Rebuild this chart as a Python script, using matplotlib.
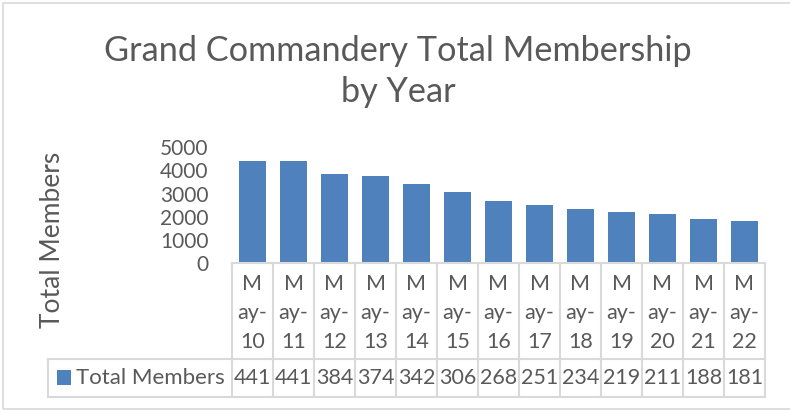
import matplotlib
matplotlib.use('Agg')
import matplotlib.pyplot as plt
from matplotlib.patches import Rectangle
from matplotlib.lines import Line2D

# ---- data ----
categories = ['May-10', 'May-11', 'May-12', 'May-13', 'May-14', 'May-15', 'May-16',
              'May-17', 'May-18', 'May-19', 'May-20', 'May-21', 'May-22']
members = [4410, 4410, 3840, 3740, 3420, 3060, 2680, 2510, 2340, 2190, 2110, 1880, 1810]
table_values = ['441', '441', '384', '374', '342', '306', '268', '251', '234', '219',
                '211', '188', '181']
yticks = [0, 1000, 2000, 3000, 4000, 5000]
series_name = 'Total Members'
title = 'Grand Commandery Total Membership\nby Year'

# ---- style ----
FONT = ['Lato', 'DejaVu Sans']
TXT = '#595959'
GRID = '#D9D9D9'
BAR = '#4F81BD'
W, H = 790, 411

plt.rcParams['font.family'] = FONT

fig = plt.figure(figsize=(W / 100, H / 100), dpi=100)
fig.patch.set_facecolor('white')

def fx(x):
    return x / W

def fy(y):
    return 1 - y / H

# plot area
x0, x1 = 232, 765
y_top, y_bot = 147.4, 262.7
ax = fig.add_axes([fx(x0), fy(y_bot), (x1 - x0) / W, (y_bot - y_top) / H])
n = len(categories)
ax.bar(range(n), members, width=0.68, color=BAR)
ax.set_xlim(-0.5, n - 0.5)
ax.set_ylim(0, 5000)
ax.set_yticks(yticks)
ax.set_yticklabels([str(t) for t in yticks], fontsize=15, color=TXT)
ax.tick_params(axis='y', length=0, pad=17)
ax.set_xticks([])
for s in ax.spines.values():
    s.set_visible(False)

# outer border
fig.patches.append(Rectangle((fx(3), fy(409)), 1, (409 - 3) / H, transform=fig.transFigure,
                             fill=False, edgecolor=GRID, lw=1.2))

# data table
cw = (x1 - x0) / n
row1_top, row1_bot, row2_bot = 263, 359, 397
leg_left = 48

def line(xa, ya, xb, yb):
    fig.lines.append(Line2D([fx(xa), fx(xb)], [fy(ya), fy(yb)], transform=fig.transFigure,
                            color=GRID, lw=1.5))

line(x0, row1_top, x1, row1_top)
line(leg_left, row1_bot, x1, row1_bot)
line(leg_left, row2_bot, x1, row2_bot)
line(leg_left, row1_bot, leg_left, row2_bot)
for i in range(n + 1):
    xx = x0 + i * cw
    line(xx, row1_top, xx, row2_bot)

for i, (c, v) in enumerate(zip(categories, table_values)):
    cx = x0 + (i + 0.5) * cw
    for j, part in enumerate([c[0], c[1:4], c[4:]]):
        fig.text(fx(cx), fy(284 + j * 29), part, ha='center', va='center',
                 fontsize=15.5, color=TXT)
    fig.text(fx(cx), fy(378), v, ha='center', va='center', fontsize=15.5, color=TXT)

# legend key inside table
fig.patches.append(Rectangle((fx(57), fy(385)), 14 / W, 15 / H, transform=fig.transFigure,
                             facecolor=BAR, edgecolor='none'))
fig.text(fx(76), fy(378), series_name, ha='left', va='center', fontsize=16, color=TXT)

# axis title
fig.text(fx(53), fy(240), series_name, ha='center', va='center', rotation=90,
         fontsize=19, color=TXT)

# chart title
fig.text(fx(398), fy(71.5), title, ha='center', va='center', fontsize=24.7,
         linespacing=1.38, color=TXT)

fig.savefig('out.png', dpi=100)
